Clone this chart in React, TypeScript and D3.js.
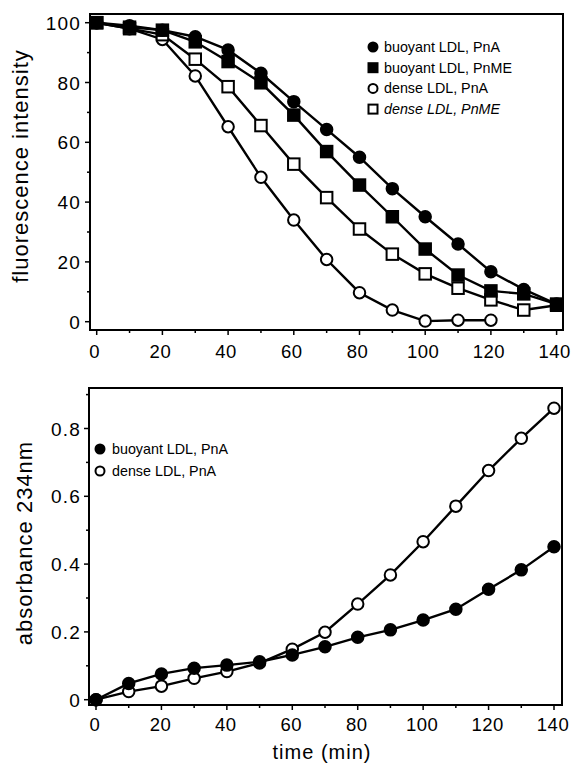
import React from "react";
import * as d3 from "d3";

const times = [0, 10, 20, 30, 40, 50, 60, 70, 80, 90, 100, 110, 120, 130, 140];
const fluoBuoyantPnA = [100, 99, 97.5, 95.3, 90.9, 83.1, 73.6, 64.3, 55, 44.5, 35.1, 26, 16.7, 10.8, 5.9];
const fluoBuoyantPnME = [100, 98.5, 97.5, 93.6, 87, 79.9, 69.1, 56.9, 45.7, 35.1, 24.3, 15.6, 10.3, 9.3, 5.9];
const fluoDensePnA = [100, 98, 94.4, 82.2, 65.2, 48.3, 34, 20.8, 9.7, 3.9, 0.2, 0.5, 0.5];
const fluoDensePnME = [100, 98, 96, 87.8, 78.6, 65.6, 52.7, 41.5, 31, 22.6, 16, 11.2, 7.3, 3.9, 5.5];

const absBuoyantPnA = [0, 0.048, 0.076, 0.093, 0.102, 0.112, 0.132, 0.156, 0.184, 0.206, 0.235, 0.267, 0.326, 0.383, 0.451];
const absDensePnA = [0, 0.024, 0.04, 0.063, 0.083, 0.108, 0.149, 0.199, 0.282, 0.368, 0.466, 0.571, 0.676, 0.771, 0.86];

const xTicks = [0, 20, 40, 60, 80, 100, 120, 140];
const xMinor = [10, 30, 50, 70, 90, 110, 130];
const fluoTicks = [0, 20, 40, 60, 80, 100];
const fluoMinor = [10, 30, 50, 70, 90];
const absTicks = [0, 0.2, 0.4, 0.6, 0.8];
const absMinor = [0.1, 0.3, 0.5, 0.7, 0.9];

const topLegend = ["buoyant LDL, PnA", "buoyant LDL, PnME", "dense LDL, PnA", "dense LDL, PnME"];
const bottomLegend = ["buoyant LDL, PnA", "dense LDL, PnA"];

const FONT = "'Liberation Sans', Arial, Helvetica, sans-serif";

type Shape = "circle" | "square";

function Marker({ x, y, shape, filled, size }: { x: number; y: number; shape: Shape; filled: boolean; size: number }) {
  const fill = filled ? "#000" : "#fff";
  if (shape === "circle") {
    return <circle cx={x} cy={y} r={size / 2} fill={fill} stroke="#000" strokeWidth={2} />;
  }
  return <rect x={x - size / 2} y={y - size / 2} width={size} height={size} fill={fill} stroke="#000" strokeWidth={2} />;
}

function Series({ values, x, y, shape, filled }: { values: number[]; x: any; y: any; shape: Shape; filled: boolean }) {
  const pts = values.map((v, i) => [times[i], v] as [number, number]);
  const line = d3.line<[number, number]>().x((d) => x(d[0])).y((d) => y(d[1]));
  return (
    <g>
      <path d={line(pts) || ""} fill="none" stroke="#000" strokeWidth={2.4} />
      {pts.map((p, i) => (
        <Marker key={i} x={x(p[0])} y={y(p[1])} shape={shape} filled={filled} size={11.5} />
      ))}
    </g>
  );
}

export default function App() {
  // top panel
  const tx = d3.scaleLinear().domain([0, 140]).range([96.7, 556.6]);
  const ty = d3.scaleLinear().domain([0, 100]).range([321.7, 22.7]);
  const topFrame = { x0: 90, x1: 563, y0: 14, y1: 330 };

  // bottom panel
  const bx = d3.scaleLinear().domain([0, 140]).range([96, 554]);
  const by = d3.scaleLinear().domain([0, 0.8]).range([699.7, 428.5]);
  const botFrame = { x0: 89, x1: 562, y0: 388, y1: 705 };

  const tickFont = { fontFamily: FONT, fontSize: 19, letterSpacing: 1.2 } as const;
  const xTickFont = { fontFamily: FONT, fontSize: 18.5, letterSpacing: 0.5 } as const;

  const frame = (f: typeof topFrame) => (
    <rect x={f.x0} y={f.y0} width={f.x1 - f.x0} height={f.y1 - f.y0} fill="none" stroke="#000" strokeWidth={2} />
  );

  return (
    <svg width={572} height={772} style={{ position: "absolute", left: 0, top: 0, background: "#fff" }}>
      <rect x={0} y={0} width={572} height={772} fill="#fff" />
      {/* ---------- TOP PANEL ---------- */}
      {frame(topFrame)}
      {xTicks.map((t) => (
        <g key={"tx" + t}>
          <line x1={tx(t)} x2={tx(t)} y1={topFrame.y1} y2={topFrame.y1 + 5} stroke="#000" strokeWidth={1.5} />
          <text x={tx(t) - 2} y={358} textAnchor="middle" {...xTickFont}>{t}</text>
        </g>
      ))}
      {xMinor.map((t) => (
        <line key={"txm" + t} x1={tx(t)} x2={tx(t)} y1={topFrame.y1} y2={topFrame.y1 + 3} stroke="#000" strokeWidth={1.5} />
      ))}
      {fluoTicks.map((v) => (
        <g key={"ty" + v}>
          <line x1={topFrame.x0 - 5} x2={topFrame.x0} y1={ty(v)} y2={ty(v)} stroke="#000" strokeWidth={1.5} />
          <text x={81} y={ty(v) + 7} textAnchor="end" {...tickFont}>{v}</text>
        </g>
      ))}
      {fluoMinor.map((v) => (
        <line key={"tym" + v} x1={topFrame.x0 - 3} x2={topFrame.x0} y1={ty(v)} y2={ty(v)} stroke="#000" strokeWidth={1.5} />
      ))}
      <text
        transform={`translate(28,166) rotate(-90)`}
        textAnchor="middle"
        fontFamily={FONT}
        fontSize={22}
        letterSpacing={1}
      >
        fluorescence intensity
      </text>

      <Series values={fluoDensePnA} x={tx} y={ty} shape="circle" filled={false} />
      <Series values={fluoDensePnME} x={tx} y={ty} shape="square" filled={false} />
      <Series values={fluoBuoyantPnME} x={tx} y={ty} shape="square" filled={true} />
      <Series values={fluoBuoyantPnA} x={tx} y={ty} shape="circle" filled={true} />

      {topLegend.map((label, i) => {
        const yy = 47 + i * 20.7;
        const shape: Shape = i % 2 === 0 ? "circle" : "square";
        const filled = i < 2;
        return (
          <g key={"tl" + i}>
            <Marker x={373} y={yy} shape={shape} filled={filled} size={9} />
            <text x={384} y={yy + 5} fontFamily={FONT} fontSize={14.3} fontStyle={i === 3 ? "italic" : "normal"}>
              {label}
            </text>
          </g>
        );
      })}

      {/* ---------- BOTTOM PANEL ---------- */}
      {frame(botFrame)}
      {xTicks.map((t) => (
        <g key={"bx" + t}>
          <line x1={bx(t)} x2={bx(t)} y1={botFrame.y1} y2={botFrame.y1 + 5} stroke="#000" strokeWidth={1.5} />
          <text x={bx(t) - 1} y={731} textAnchor="middle" {...xTickFont}>{t}</text>
        </g>
      ))}
      {xMinor.map((t) => (
        <line key={"bxm" + t} x1={bx(t)} x2={bx(t)} y1={botFrame.y1} y2={botFrame.y1 + 3} stroke="#000" strokeWidth={1.5} />
      ))}
      {absTicks.map((v) => (
        <g key={"by" + v}>
          <line x1={botFrame.x0 - 5} x2={botFrame.x0} y1={by(v)} y2={by(v)} stroke="#000" strokeWidth={1.5} />
          <text x={81} y={by(v) + 7} textAnchor="end" {...tickFont}>{v === 0 ? "0" : String(v)}</text>
        </g>
      ))}
      {absMinor.map((v) => (
        <line key={"bym" + v} x1={botFrame.x0 - 3} x2={botFrame.x0} y1={by(v)} y2={by(v)} stroke="#000" strokeWidth={1.5} />
      ))}
      <text
        transform={`translate(32,543) rotate(-90)`}
        textAnchor="middle"
        fontFamily={FONT}
        fontSize={22}
        letterSpacing={1}
      >
        absorbance 234nm
      </text>
      <text x={322} y={759} textAnchor="middle" fontFamily={FONT} fontSize={20} letterSpacing={1}>
        time (min)
      </text>

      <Series values={absDensePnA} x={bx} y={by} shape="circle" filled={false} />
      <Series values={absBuoyantPnA} x={bx} y={by} shape="circle" filled={true} />

      {bottomLegend.map((label, i) => {
        const yy = 449 + i * 22;
        return (
          <g key={"bl" + i}>
            <Marker x={100} y={yy} shape="circle" filled={i === 0} size={9} />
            <text x={112} y={yy + 5} fontFamily={FONT} fontSize={14.3}>
              {label}
            </text>
          </g>
        );
      })}
    </svg>
  );
}
